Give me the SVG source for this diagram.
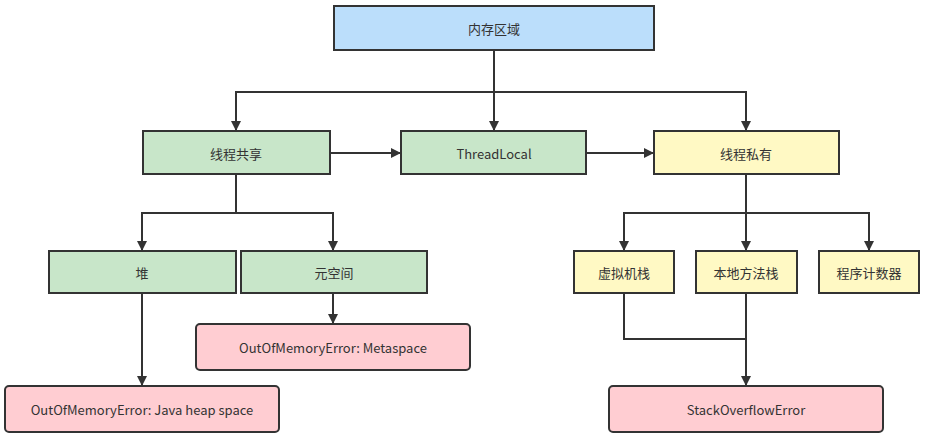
<svg xmlns="http://www.w3.org/2000/svg" width="927" height="440" viewBox="0 0 927 440">
<style>
.n{stroke:#333333;stroke-width:2}
.b{fill:#bbdefb}.g{fill:#c8e6c9}.y{fill:#fff9c4}.p{fill:#ffcdd2}
text{font-family:"Noto Sans CJK SC","Microsoft YaHei",sans-serif;font-size:13px;fill:#333333;text-anchor:middle;dominant-baseline:central}
.c{fill:none;stroke:#333333;stroke-width:2}
</style>
<defs>
<marker id="a" viewBox="0 0 10 10" refX="10" refY="5" markerWidth="10" markerHeight="10" markerUnits="userSpaceOnUse" orient="auto">
<path d="M0,0 L10,5 L0,10 z" fill="#333333"/>
</marker>
</defs>
<rect width="927" height="440" fill="#ffffff"/>
<g id="connectors">
<path class="c" d="M494,50 V131" marker-end="url(#a)"/>
<path class="c" d="M494,92 H236 V131" marker-end="url(#a)"/>
<path class="c" d="M494,92 H746 V131" marker-end="url(#a)"/>
<path class="c" d="M330,153 H401" marker-end="url(#a)"/>
<path class="c" d="M586,153 H654" marker-end="url(#a)"/>
<path class="c" d="M236,174 V213 H142 V251" marker-end="url(#a)"/>
<path class="c" d="M236,213 H333 V251" marker-end="url(#a)"/>
<path class="c" d="M142,293 V386" marker-end="url(#a)"/>
<path class="c" d="M333,293 V324" marker-end="url(#a)"/>
<path class="c" d="M746,174 V213 H624 V251" marker-end="url(#a)"/>
<path class="c" d="M746,213 V251" marker-end="url(#a)"/>
<path class="c" d="M746,213 H869 V251" marker-end="url(#a)"/>
<path class="c" d="M624,293 V339 H746"/>
<path class="c" d="M746,293 V386" marker-end="url(#a)"/>
</g>
<g id="memory"><rect class="n b" x="334" y="6" width="320" height="44"/><text x="494" y="28">内存区域</text></g>
<g id="shared"><rect class="n g" x="143" y="131" width="187" height="43"/><text x="236" y="153">线程共享</text></g>
<g id="threadlocal"><rect class="n g" x="401" y="131" width="185" height="43"/><text x="494" y="153">ThreadLocal</text></g>
<g id="private"><rect class="n y" x="654" y="131" width="185" height="43"/><text x="746" y="153">线程私有</text></g>
<g id="heap"><rect class="n g" x="49" y="251" width="187" height="42"/><text x="142" y="272">堆</text></g>
<g id="metaspace"><rect class="n g" x="241" y="251" width="186" height="42"/><text x="334" y="272">元空间</text></g>
<g id="vmstack"><rect class="n y" x="574" y="251" width="100" height="42"/><text x="624" y="272">虚拟机栈</text></g>
<g id="nativestack"><rect class="n y" x="696" y="251" width="101" height="42"/><text x="746" y="272">本地方法栈</text></g>
<g id="pc"><rect class="n y" x="819" y="251" width="100" height="42"/><text x="869" y="272">程序计数器</text></g>
<g id="oom-meta"><rect class="n p" x="196" y="324" width="274" height="46" rx="4"/><text x="333" y="347">OutOfMemoryError: Metaspace</text></g>
<g id="oom-heap"><rect class="n p" x="5" y="386" width="274" height="46" rx="4"/><text x="142" y="409">OutOfMemoryError: Java heap space</text></g>
<g id="soe"><rect class="n p" x="609" y="386" width="274" height="46" rx="4"/><text x="746" y="409">StackOverflowError</text></g>
</svg>
